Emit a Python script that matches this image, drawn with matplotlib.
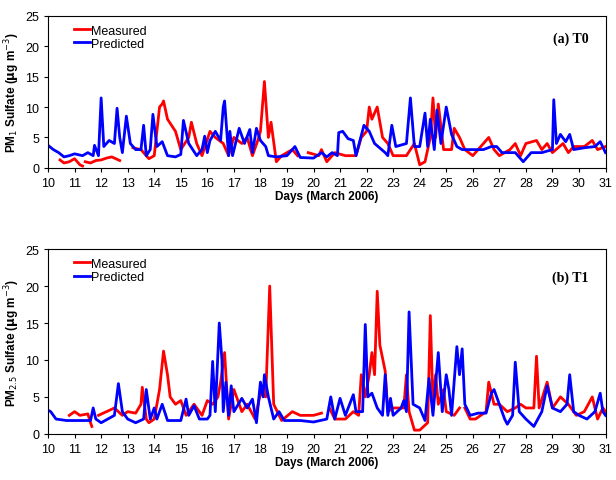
import numpy as np
import matplotlib
matplotlib.use("Agg")
import matplotlib.pyplot as plt
nan = np.nan
plt.rcParams['font.family'] = ['Liberation Sans', 'DejaVu Sans']

a_meas_x = [10.45,10.6,10.8,11.0,11.2,11.3,11.35,11.4,11.6,11.8,12.0,12.2,12.4,12.55,12.7,12.9,13.2,13.5,13.8,14.0,14.2,14.3,14.35,14.5,14.8,15.0,15.3,15.4,15.6,15.8,16.1,16.3,16.6,16.8,17.0,17.3,17.5,17.7,17.9,18.0,18.15,18.3,18.4,18.6,18.8,19.2,19.4,19.6,19.8,20.2,20.3,20.5,20.8,21.2,21.6,21.8,22.0,22.1,22.2,22.4,22.6,22.8,23.0,23.5,23.8,24.0,24.2,24.4,24.5,24.6,24.7,24.9,25.2,25.3,25.5,25.7,26.0,26.4,26.6,26.8,27.0,27.4,27.6,27.8,28.0,28.4,28.6,28.8,29.0,29.4,29.6,29.8,30.2,30.5,30.7,31.0]
a_meas_y = [1.3,0.8,1.0,1.5,0.5,0.3,nan,1.0,0.8,1.2,1.3,1.6,1.8,1.5,1.2,nan,3.3,3.0,1.5,2.0,10.0,10.5,11.0,8.0,6.0,3.0,5.0,7.5,4.0,2.0,6.0,5.0,4.0,2.0,5.0,4.0,5.0,2.0,4.5,6.0,14.2,5.0,7.5,1.0,2.0,3.0,2.0,nan,2.5,2.0,3.0,1.0,2.5,2.0,2.0,5.0,6.0,10.0,8.0,10.0,5.0,4.0,2.0,2.0,4.0,0.5,1.0,5.0,11.5,5.0,10.5,3.0,3.0,6.5,5.0,3.0,2.0,4.0,5.0,3.0,2.0,3.0,4.0,2.0,4.0,4.5,3.0,4.0,2.5,4.0,2.5,3.5,3.5,4.5,3.0,3.5]
a_pred_x = [10.0,10.2,10.4,10.6,10.8,11.0,11.3,11.5,11.7,11.75,11.9,12.0,12.1,12.3,12.5,12.6,12.7,12.8,12.95,13.1,13.3,13.5,13.6,13.7,13.85,13.95,14.1,14.3,14.5,14.8,15.0,15.1,15.3,15.6,15.8,15.9,16.0,16.1,16.3,16.5,16.6,16.65,16.8,16.85,16.95,17.2,17.4,17.6,17.7,17.85,18.0,18.2,18.3,18.6,19.0,19.3,19.5,20.0,20.3,20.5,20.7,20.9,20.95,21.1,21.3,21.5,21.6,21.9,22.1,22.3,22.7,22.8,22.95,23.1,23.5,23.65,23.8,24.0,24.2,24.3,24.4,24.55,24.65,24.8,25.0,25.2,25.4,25.6,26.0,26.4,26.7,26.9,27.1,27.4,27.6,27.9,28.2,28.6,29.0,29.05,29.15,29.3,29.5,29.65,29.8,30.2,30.6,30.8,31.0]
a_pred_y = [3.7,3.0,2.5,1.8,2.0,2.3,2.0,2.5,2.0,3.7,2.0,11.5,3.5,4.5,4.0,9.8,5.0,2.5,8.5,4.0,3.0,3.0,7.0,2.0,3.0,8.8,3.5,4.3,2.0,1.8,2.2,7.8,4.0,2.0,3.0,5.2,2.5,4.5,6.0,4.5,10.0,11.0,2.0,6.0,2.0,6.5,4.0,6.3,2.5,6.5,4.5,3.5,2.0,1.8,2.0,3.5,1.7,1.6,2.5,1.8,2.5,2.0,5.8,6.0,4.8,4.5,2.0,7.0,6.0,4.0,2.5,2.0,7.0,3.5,4.0,11.5,3.5,3.5,9.0,3.5,8.0,3.0,9.5,4.0,10.0,5.5,3.5,3.0,3.0,3.0,3.5,3.5,2.5,2.5,2.5,1.0,2.5,2.5,3.0,11.2,4.0,5.5,4.3,5.5,3.0,3.3,3.5,4.3,2.5]

b_meas_x = [10.8,11.0,11.2,11.5,11.6,11.65,11.75,11.9,12.2,12.5,12.8,13.0,13.3,13.5,13.55,13.7,13.8,14.0,14.1,14.2,14.35,14.5,14.6,14.8,15.0,15.2,15.5,15.8,16.0,16.2,16.4,16.5,16.65,16.8,17.0,17.1,17.3,17.5,17.8,18.0,18.2,18.35,18.5,18.8,19.2,19.5,20.0,20.3,20.45,20.6,20.8,21.2,21.5,21.7,21.8,21.95,22.1,22.2,22.3,22.4,22.5,22.7,22.8,23.0,23.4,23.5,23.6,23.8,24.0,24.3,24.4,24.5,24.6,24.7,24.9,25.0,25.3,25.5,25.6,25.7,25.9,26.1,26.5,26.6,26.8,27.0,27.3,27.6,27.8,28.0,28.3,28.4,28.5,28.8,29.0,29.3,29.6,29.9,30.2,30.5,30.7,30.9,31.0]
b_meas_y = [2.5,3.0,2.5,2.7,1.5,1.0,nan,2.5,3.0,3.5,2.5,3.0,2.8,4.0,6.3,2.0,1.5,2.0,4.0,6.0,11.2,8.0,5.0,4.0,4.5,2.5,4.0,2.5,4.5,4.0,5.0,7.0,11.0,2.0,6.0,5.0,3.0,4.0,2.0,5.5,5.0,20.0,4.0,1.8,3.0,2.5,2.5,2.8,nan,3.5,2.0,2.0,3.0,2.5,8.0,5.0,8.0,11.0,8.0,19.3,12.0,8.5,3.0,3.5,3.5,8.0,3.0,0.5,0.5,1.5,16.0,4.0,8.0,4.0,6.0,3.0,2.5,3.5,nan,3.5,2.0,2.0,3.0,7.0,4.0,4.0,3.0,3.5,4.0,3.5,3.5,10.5,3.5,7.0,3.5,5.0,4.0,2.5,3.0,5.0,2.0,3.5,3.0]
b_pred_x = [10.0,10.1,10.3,10.7,11.0,11.6,11.7,11.8,12.0,12.5,12.65,12.8,13.0,13.3,13.6,13.7,13.85,14.0,14.1,14.3,14.5,15.0,15.2,15.3,15.5,15.7,16.0,16.1,16.2,16.3,16.45,16.55,16.6,16.7,16.8,16.9,17.0,17.3,17.5,17.7,17.85,18.0,18.1,18.15,18.3,18.5,18.7,18.9,19.5,20.0,20.5,20.65,20.8,21.0,21.2,21.5,21.6,21.85,21.95,22.05,22.2,22.4,22.6,22.7,22.8,22.9,23.0,23.3,23.4,23.5,23.6,23.75,24.0,24.2,24.35,24.5,24.7,24.85,25.0,25.1,25.2,25.4,25.5,25.6,25.7,25.9,26.2,26.5,26.7,26.8,27.0,27.2,27.3,27.5,27.6,27.75,28.0,28.3,28.6,28.8,29.0,29.3,29.55,29.65,29.8,30.0,30.3,30.6,30.8,30.9,31.0]
b_pred_y = [3.2,3.0,2.0,1.8,1.8,1.8,3.5,2.0,1.5,2.5,6.8,3.0,2.0,1.5,2.0,6.0,2.0,3.5,2.0,4.0,1.8,1.8,4.7,2.5,3.8,2.0,2.0,2.5,9.8,3.0,15.0,10.0,3.0,7.0,2.5,6.5,3.0,4.8,3.5,4.7,1.5,7.0,5.0,8.0,5.0,2.0,3.0,1.8,1.8,1.6,2.0,5.0,2.0,4.8,2.5,5.3,3.0,3.0,14.8,5.0,5.5,3.5,2.5,8.0,2.5,4.8,2.5,3.5,4.5,3.0,16.5,4.0,3.5,1.8,7.5,2.5,11.0,3.0,8.0,6.0,2.5,11.8,8.0,11.5,4.0,2.5,2.8,2.8,5.5,6.0,4.0,2.0,1.3,2.5,9.7,3.0,2.0,1.0,3.0,6.5,3.5,3.0,4.0,8.0,3.0,2.5,2.0,3.0,5.5,3.0,2.5]

fig = plt.figure(figsize=(6.16, 4.81), dpi=100)
ax1 = fig.add_axes([0.078, 0.649, 0.905, 0.316])
ax2 = fig.add_axes([0.078, 0.096, 0.905, 0.384])

panels = [(ax1, a_meas_x, a_meas_y, a_pred_x, a_pred_y, '(a) T0', r'PM$_1$ Sulfate ($\mathbf{\mu}$g m$^{-3}$)'),
          (ax2, b_meas_x, b_meas_y, b_pred_x, b_pred_y, '(b) T1', r'PM$_{2.5}$ Sulfate ($\mathbf{\mu}$g m$^{-3}$)')]
for ax, mx, my, px, py, lab, ylab in panels:
    ax.plot(mx, my, color='#ff0000', lw=2.0, label='Measured')
    ax.plot(px, py, color='#0000ff', lw=2.0, label='Predicted')
    ax.set_xlim(10, 31)
    ax.set_ylim(0, 25)
    ax.set_xticks(range(10, 32))
    ax.set_yticks(range(0, 26, 5))
    ax.tick_params(labelsize=9, length=3)
    ax.set_xlabel('Days (March 2006)', fontsize=8.5, fontweight='bold', labelpad=1)
    ax.set_ylabel(ylab, fontsize=8.5, fontweight='bold', labelpad=2)
    ax.text(0.97, 0.85, lab, transform=ax.transAxes, ha='right', va='center',
            fontsize=10, fontweight='bold', family='Liberation Serif')
    ax.legend(loc='upper left', frameon=False, fontsize=9, handlelength=1.3,
              handletextpad=0.1, borderaxespad=0.3, labelspacing=0.1,
              bbox_to_anchor=(0.03, 1.0))
fig.savefig('out.png', dpi=100)
